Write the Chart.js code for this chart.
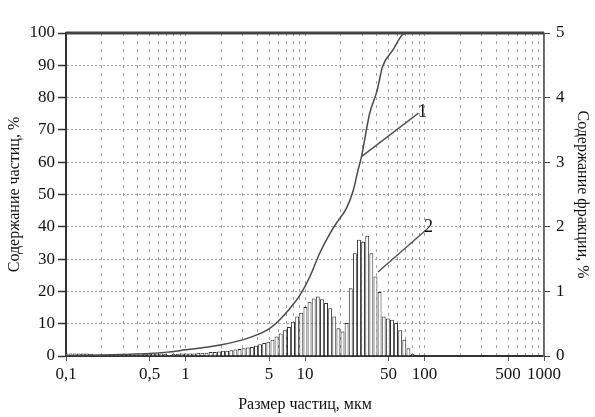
<!DOCTYPE html>
<html>
<head>
<meta charset="utf-8">
<script src="https://cdn.jsdelivr.net/npm/chart.js"></script>
<style>
  html, body { margin: 0; padding: 0; background: #fff; }
</style>
</head>
<body>
<canvas id="grafico" width="595" height="417"></canvas>
<script>
// x axis labels (мкм)
const tickLabels = [0.1, 0.5, 1, 5, 10, 50, 100, 500, 1000];

// curve 1 - cumulative content, %
const cumSize = [0.1, 0.2, 0.3, 0.5, 0.7, 1, 1.5, 2, 3, 4, 5, 6.2, 7.5, 9.1, 11, 13.3, 16.2, 19, 22.2, 25.4, 27.8, 29.7, 34.7, 40, 44.6, 55, 65, 72, 270];
const cumValue = [0.1, 0.3, 0.5, 0.8, 1.2, 1.9, 2.7, 3.5, 5.0, 6.6, 8.4, 11.4, 14.8, 18.9, 24.6, 31.9, 38, 42, 45.7, 51.4, 57.6, 61.7, 75, 82, 89.6, 95, 99.4, 100, 100];

// histogram 2 - fraction content, %
const binSize = [
  0.1008, 0.1092, 0.1182, 0.1280, 0.1385, 0.1500, 0.1624, 0.1758, 0.1903, 0.2060,
  0.2230, 0.2415, 0.2614, 0.2830, 0.3064, 0.3317, 0.3591, 0.3888, 0.4209, 0.4557,
  0.4933, 0.5341, 0.5782, 0.6260, 0.6777, 0.7337, 0.7943, 0.8601, 0.9312,
  1.008, 1.092, 1.182, 1.280, 1.385, 1.500, 1.624, 1.758, 1.903, 2.060,
  2.230, 2.415, 2.614, 2.830, 3.064, 3.317, 3.591, 3.888, 4.209, 4.557,
  4.933, 5.341, 5.782, 6.260, 6.777, 7.337, 7.943, 8.601, 9.312,
  10.08, 10.92, 11.82, 12.80, 13.85, 15.00, 16.24, 17.58, 19.03, 20.60,
  22.30, 24.15, 26.14, 28.30, 30.64, 33.17, 35.91, 38.88, 42.09, 45.57,
  49.33, 53.41, 57.82, 62.60, 67.77, 73.37, 79.43
];
const binValue = [
  0.04, 0.04, 0.04, 0.04, 0.04, 0.04, 0.03, 0.02, 0.02, 0.02,
  0.02, 0.02, 0.02, 0.02, 0.02, 0.02, 0.02, 0.02, 0.02, 0.03,
  0.04, 0.04, 0.04, 0.04, 0.03, 0.02, 0.03, 0.03, 0.04,
  0.04, 0.04, 0.04, 0.05, 0.05, 0.05, 0.06, 0.06, 0.07, 0.08,
  0.08, 0.09, 0.10, 0.11, 0.12, 0.13, 0.14, 0.16, 0.18, 0.20,
  0.22, 0.25, 0.30, 0.35, 0.40, 0.45, 0.53, 0.61, 0.67,
  0.76, 0.84, 0.89, 0.92, 0.88, 0.82, 0.74, 0.61, 0.43, 0.38,
  0.51, 1.05, 1.59, 1.80, 1.77, 1.86, 1.59, 1.23, 0.99, 0.61,
  0.58, 0.56, 0.51, 0.40, 0.25, 0.12, 0.03
];

// leader lines: [x1, y1, x2, y2, labelX, labelY, text, axis]
const leaders = [
  [29.7, 61.7, 89, 75.2, 96, 75.5, '1', 'y'],
  [40.8, 1.30, 103, 1.95, 108, 2.0, '2', 'y2']
];

const gridValues = [];
for (let d = 0.1; d < 1000; d *= 10) {
  for (let m = 1; m < 10; m++) gridValues.push(+(m * d).toPrecision(3));
}
gridValues.push(1000);

const isLabeled = v => tickLabels.some(t => Math.abs(t - v) / t < 1e-6);
const serif = 'Liberation Serif';

const frame = {
  id: 'frame',
  afterDatasetsDraw(chart) {
    const {ctx, chartArea: a} = chart;
    ctx.save();
    ctx.strokeStyle = '#666';
    ctx.lineWidth = 1.5;
    ctx.beginPath();
    ctx.moveTo(a.right, a.top);
    ctx.lineTo(a.right, a.bottom);
    ctx.stroke();
    ctx.strokeStyle = '#444';
    ctx.lineWidth = 3;
    ctx.beginPath();
    ctx.moveTo(a.left, a.top);
    ctx.lineTo(a.right, a.top);
    ctx.stroke();
    ctx.restore();
  },
  afterDraw(chart) {
    const {ctx, scales} = chart;
    ctx.save();
    ctx.strokeStyle = '#555';
    ctx.lineWidth = 1.5;
    ctx.fillStyle = '#111';
    ctx.font = '18px ' + serif;
    ctx.textAlign = 'center';
    ctx.textBaseline = 'middle';
    leaders.forEach(l => {
      const ys = scales[l[7]];
      ctx.beginPath();
      ctx.moveTo(scales.x.getPixelForValue(l[0]), ys.getPixelForValue(l[1]));
      ctx.lineTo(scales.x.getPixelForValue(l[2]), ys.getPixelForValue(l[3]));
      ctx.stroke();
      ctx.fillText(l[6], scales.x.getPixelForValue(l[4]), ys.getPixelForValue(l[5]));
    });
    ctx.restore();
  }
};

new Chart(document.getElementById('grafico'), {
  type: 'bar',
  data: {
    datasets: [{
      type: 'line',
      data: cumSize.map((s, i) => ({x: s, y: cumValue[i]})),
      yAxisID: 'y',
      borderColor: '#4a4a4a',
      borderWidth: 1.5,
      pointRadius: 0,
      cubicInterpolationMode: 'monotone',
      fill: false,
      order: 0
    }, {
      type: 'bar',
      data: binSize.map((s, i) => ({x: s, y: binValue[i]})),
      yAxisID: 'y2',
      backgroundColor: '#fff',
      borderColor: '#2a2a2a',
      borderWidth: 1,
      barPercentage: 0.95,
      categoryPercentage: 1,
      order: 1
    }]
  },
  options: {
    responsive: false,
    animation: false,
    layout: { padding: { top: 33, left: 0, right: 0, bottom: 0 } },
    plugins: { legend: { display: false }, tooltip: { enabled: false } },
    scales: {
      x: {
        type: 'logarithmic',
        min: 0.1,
        max: 1000,
        offset: false,
        afterBuildTicks: s => { s.ticks = gridValues.map(v => ({value: v})); },
        afterFit: s => { s.height = 61; },
        grid: {
          offset: false,
          color: '#a0a0a0',
          tickLength: 5,
          tickColor: c => isLabeled(c.tick.value) ? '#555' : 'rgba(0,0,0,0)'
        },
        border: { color: '#333', width: 2, dash: [3, 5] },
        ticks: {
          autoSkip: false,
          maxRotation: 0,
          padding: 3,
          color: '#111',
          font: { family: serif, size: 17 },
          callback: v => isLabeled(v) ? String(v).replace('.', ',') : ''
        },
        title: {
          display: true,
          text: 'Размер частиц, мкм',
          color: '#111',
          font: { family: serif, size: 16 },
          padding: { top: 0, bottom: 3 }
        }
      },
      y: {
        position: 'left',
        min: 0,
        max: 100,
        afterFit: s => { s.width = 66; },
        grid: { color: '#a0a0a0', tickLength: 8, tickColor: '#333', tickWidth: 1.5 },
        border: { color: '#333', width: 2, dash: [2, 2] },
        ticks: {
          stepSize: 10,
          padding: 3,
          color: '#111',
          font: { family: serif, size: 17 }
        },
        title: {
          display: true,
          text: 'Содержание частиц, %',
          color: '#111',
          font: { family: serif, size: 16 },
          padding: { top: 5, bottom: 0 }
        }
      },
      y2: {
        position: 'right',
        min: 0,
        max: 5,
        afterFit: s => { s.width = 51; },
        grid: { drawOnChartArea: false, tickLength: 6, tickColor: '#444' },
        border: { color: '#666', width: 1.5 },
        ticks: {
          stepSize: 1,
          padding: 6,
          color: '#111',
          font: { family: serif, size: 17 }
        },
        title: {
          display: true,
          text: 'Содержание фракции, %',
          color: '#111',
          font: { family: serif, size: 16 },
          padding: { top: 3, bottom: 0 }
        }
      }
    }
  },
  plugins: [frame]
});
</script>
</body>
</html>
